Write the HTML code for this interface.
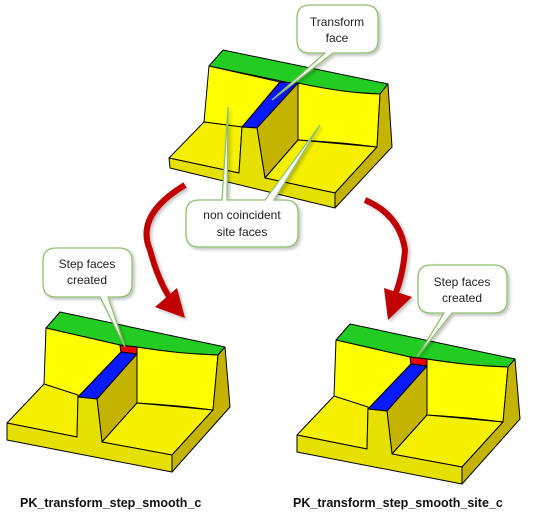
<!DOCTYPE html>
<html><head><meta charset="utf-8"><style>
html,body{margin:0;padding:0;background:#fff;width:534px;height:524px;overflow:hidden}
svg{display:block}
text{font-family:"Liberation Sans",Arial,sans-serif}
</style></head><body>
<svg width="534" height="524" viewBox="0 0 534 524" xmlns="http://www.w3.org/2000/svg">
<defs>
<filter id="sh" x="-20%" y="-20%" width="140%" height="140%"><feDropShadow dx="2" dy="2" stdDeviation="1.5" flood-color="#000" flood-opacity="0.25"/></filter>
</defs>
<g stroke="#000" stroke-width="1" stroke-linejoin="round">
<!-- top shape -->
<g transform="translate(169,50)">
<polygon fill="#22cc22" points="54,0 219,34 211,44 178,42 131,35 40,16"/>
<polygon fill="#ffff00" points="40,16 111,32 73,77 35,72"/>
<polygon fill="#0a1aff" points="111,32 129,33 88,78 73,77"/>
<polygon fill="#c4b400" points="129,33 88,78 96,128 129,90"/>
<path fill="#ffff00" d="M129,33 Q175,43 211,44 L208,97 Q170,92 129,90 Z"/>
<polygon fill="#f5f000" points="129,90 208,97 166,143 96,128"/>
<polygon fill="#c4b400" points="211,44 219,34 223,97 166,158 166,143 208,97"/>
<polygon fill="#f5f000" points="35,72 73,77 70,123 0,108"/>
<polygon fill="#e6e000" points="0,108 70,123 73,77 88,78 96,128 166,143 166,158 1,118"/>
</g>
<!-- bottom left -->
<g transform="translate(7,313)">
<polygon fill="#22cc22" points="53,-1 218,34 211,42 173,40 130,34 113,32 39,15"/>
<polygon fill="#ffff00" points="39,15 113,32 114,39 71,84 37,71"/>
<polygon fill="#ee0000" points="113,32 130,34 130,41 114,39"/>
<polygon fill="#0a1aff" points="114,39 130,41 90,86 71,84"/>
<polygon fill="#c4b400" points="130,41 90,86 95,129 130,90"/>
<path fill="#ffff00" d="M130,34 Q173,41 211,42 L206,97 Q168,92 130,90 Z"/>
<polygon fill="#f5f000" points="130,90 206,97 165,142 95,129"/>
<polygon fill="#c4b400" points="211,42 218,34 223,94 165,159 165,142 206,97"/>
<polygon fill="#f5f000" points="37,71 71,82 70,124 0,110"/>
<polygon fill="#e6e000" points="0,110 70,124 71,84 90,86 95,129 165,142 165,159 0,127"/>
</g>
<!-- bottom right -->
<g transform="translate(297,325)">
<polygon fill="#22cc22" points="53,-1 218,34 211,42 173,40 130,34 113,32 39,15"/>
<polygon fill="#ffff00" points="39,15 113,32 114,39 71,84 37,71"/>
<polygon fill="#ee0000" points="113,32 130,34 130,41 114,39"/>
<polygon fill="#0a1aff" points="114,39 130,41 90,86 71,84"/>
<polygon fill="#c4b400" points="130,41 90,86 95,129 130,90"/>
<path fill="#ffff00" d="M130,34 Q173,41 211,42 L206,97 Q168,92 130,90 Z"/>
<polygon fill="#f5f000" points="130,90 206,97 165,142 95,129"/>
<polygon fill="#c4b400" points="211,42 218,34 223,94 165,159 165,142 206,97"/>
<polygon fill="#f5f000" points="37,71 71,82 70,124 0,110"/>
<polygon fill="#e6e000" points="0,110 70,124 71,84 90,86 95,129 165,142 165,159 0,127"/>
</g>
</g>
<!-- arrows -->
<g filter="url(#sh)">
<path d="M185,185 Q135,215 150,250 Q158,280 170,298" fill="none" stroke="#c00000" stroke-width="6"/>
<polygon fill="#c00000" points="155,307 185,318 177,288"/>
<path d="M365,200 Q400,215 405,250 Q403,275 395,295" fill="none" stroke="#c00000" stroke-width="6"/>
<polygon fill="#c00000" points="384,288 388,320 412,297"/>
</g>
<!-- callouts -->
<g fill="#fff" stroke="#8fbf70" stroke-width="1.3" filter="url(#sh)">
<path d="M310,5 H365 Q378,5 378,18 V40 Q378,53 365,53 H333 L272,100 L325,53 H310 Q297,53 297,40 V18 Q297,5 310,5 Z"/>
<path d="M199,200 H222 L228,107 L227,200 H265 L320,125 L274,200 H285 Q298,200 298,213 V234 Q298,247 285,247 H199 Q186,247 186,234 V213 Q186,200 199,200 Z"/>
<path d="M56,248 H119 Q132,248 132,261 V284 Q132,297 119,297 H108 L125,347 L100,297 H56 Q43,297 43,284 V261 Q43,248 56,248 Z"/>
<path d="M431,265 H494 Q507,265 507,278 V300 Q507,313 494,313 H452 L417,357 L444,313 H431 Q418,313 418,300 V278 Q418,265 431,265 Z"/>
</g>
<g font-size="12" fill="#222" text-anchor="middle">
<text x="337" y="26">Transform</text>
<text x="337" y="42">face</text>
<text x="242" y="219">non coincident</text>
<text x="242" y="236">site faces</text>
<text x="87" y="268">Step faces</text>
<text x="87" y="284">created</text>
<text x="462" y="286">Step faces</text>
<text x="462" y="302">created</text>
</g>
<g font-size="12.5" font-weight="bold" fill="#111">
<text x="20" y="507">PK_transform_step_smooth_c</text>
<text x="293" y="507">PK_transform_step_smooth_site_c</text>
</g>
</svg>
</body></html>
